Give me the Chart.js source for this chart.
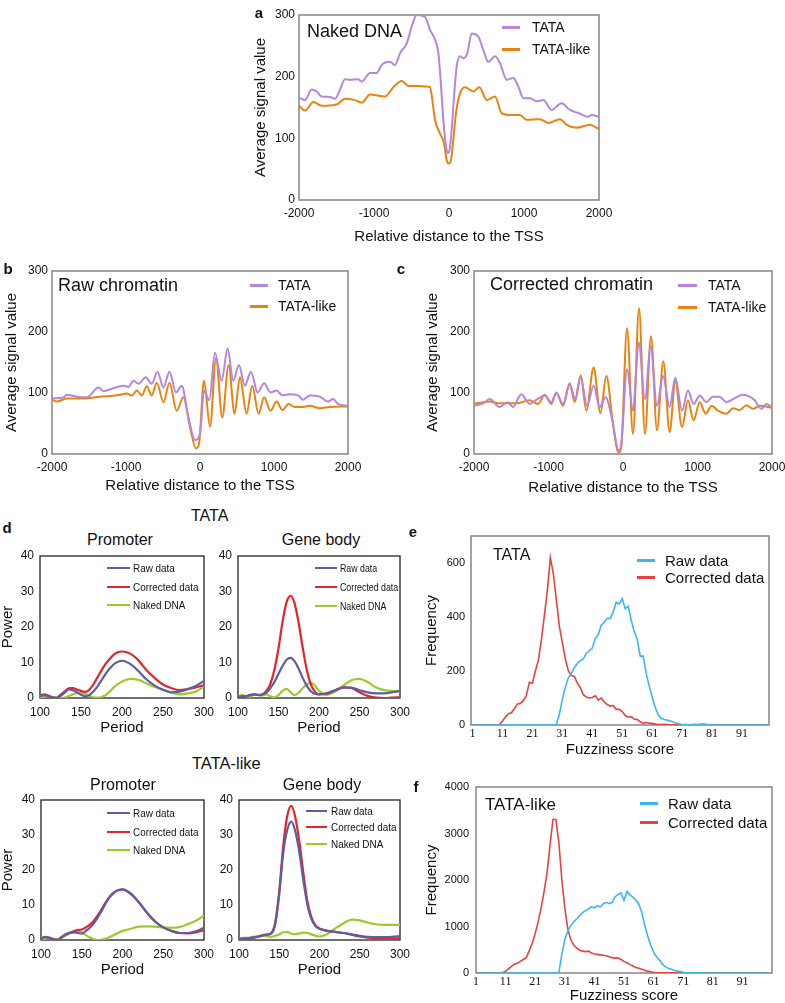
<!DOCTYPE html>
<html>
<head>
<meta charset="utf-8">
<script src="https://cdn.jsdelivr.net/npm/chart.js@4.4.1/dist/chart.umd.min.js"></script>
<style>
  body { margin: 0; width: 785px; height: 1003px; position: relative; background: #fff; overflow: hidden;
         font-family: "Liberation Sans", Arial, sans-serif; color: #111; }
  canvas { position: absolute; }
  .t { position: absolute; white-space: nowrap; line-height: 1; }
</style>
</head>
<body>
<script>
// ---------- data ----------
// a: naked DNA, signal around the TSS
const aTataPos = [-2000,-1920,-1831,-1764,-1698,-1587,-1520,-1453,-1387,-1320,-1209,-1164,-1053,-964,-898,-787,-720,-653,-564,-498,-431,-320,-253,-187,-142,-111,-76,-40,-18,4,36,67,102,147,191,244,302,391,458,524,613,680,769,858,924,991,1080,1169,1258,1369,1502,1613,1724,1858,1902,2000];
const aTataVal = [166,162,179,176,168,167,164,179,196,195,196,192,206,206,219,224,219,238,254,281,300,297,276,260,238,194,130,87,76,79,114,168,216,233,230,238,270,265,243,224,233,222,195,198,184,165,165,160,162,146,157,146,141,135,138,135];
const aLikePos = [-2000,-1920,-1809,-1698,-1498,-1387,-1253,-1164,-1053,-853,-742,-631,-542,-431,-298,-253,-222,-187,-120,-67,-31,0,27,58,93,147,213,324,404,502,613,702,813,946,1035,1213,1324,1480,1569,1702,1880,2000];
const aLikeVal = [153,145,159,153,155,164,162,158,171,168,183,193,185,185,184,183,162,130,108,92,65,59,65,98,141,173,183,176,183,162,168,141,138,138,130,131,125,131,122,117,122,115];

// b: raw chromatin
const bTataPos = [-2000,-1843,-1798,-1663,-1528,-1371,-1303,-1191,-1034,-966,-899,-831,-733,-652,-575,-494,-413,-324,-247,-157,-67,0,54,126,202,292,373,449,526,607,688,778,867,953,1034,1115,1213,1326,1393,1483,1618,1730,1798,1865,2000];
const bTataVal = [91,93,97,94,93,109,103,107,112,110,120,115,126,115,135,109,135,101,112,60,23,33,104,88,166,120,173,120,146,112,135,101,116,101,104,96,98,96,89,96,94,86,90,82,79];
const bLikePos = [-2000,-1933,-1798,-1573,-1348,-1213,-1079,-989,-921,-854,-787,-719,-652,-584,-494,-413,-315,-225,-135,-54,-13,54,135,216,301,387,467,539,629,706,791,867,953,1034,1115,1196,1281,1371,1483,1618,1753,2000];
const bLikeVal = [89,86,91,91,94,95,97,99,96,104,96,111,96,117,85,117,71,93,44,9,17,120,45,157,60,146,66,126,66,112,66,93,71,86,72,82,77,77,79,75,77,78];

// c: corrected chromatin
const cTataPos = [-2000,-1879,-1790,-1656,-1544,-1477,-1365,-1253,-1163,-1051,-962,-895,-805,-716,-640,-568,-483,-394,-313,-233,-143,-60,-25,54,134,210,295,371,456,537,626,702,792,872,948,1029,1118,1208,1298,1387,1477,1611,1700,1767,1857,1924,2000];
const cTataVal = [79,83,90,77,85,77,98,82,89,96,85,100,82,114,90,126,79,112,77,93,55,6,14,139,71,183,90,177,79,128,77,125,71,104,82,96,85,94,94,85,90,97,94,88,74,82,77];
const cLikePos = [-2000,-1879,-1790,-1656,-1432,-1253,-1141,-1051,-962,-895,-805,-716,-649,-568,-492,-394,-304,-224,-134,-60,-25,54,134,215,295,376,456,541,626,702,792,872,948,1029,1109,1190,1275,1387,1477,1566,1656,1745,1835,2000];
const cLikeVal = [82,85,86,83,83,88,82,97,82,101,79,116,85,129,71,142,67,128,49,2,10,206,33,239,33,193,39,152,36,120,44,88,55,85,66,79,71,66,75,72,80,74,79,76];

const distTicks = [-2000, -1000, 0, 1000, 2000];
const signalTicks = [0, 100, 200, 300];

// d: periodogram power
const period = [100,105,110,115,120,125,130,135,140,145,150,155,160,165,170,175,180,185,190,195,200,210,220,230,240,250,260,270,280,290,300];
const dTataPromRaw   = [0.5,0.8,0.5,0.2,0.0,0.6,1.5,2.4,2.2,1.6,0.9,0.5,0.8,1.8,3.2,5.0,6.8,8.3,9.5,10.2,10.5,9.6,7.6,5.2,3.5,2.3,1.6,1.8,2.5,3.4,4.8];
const dTataPromCorr  = [0.6,1.0,0.7,0.1,0.0,0.9,1.8,2.7,2.8,2.4,2.0,1.7,2.3,3.8,5.8,7.8,9.6,11.0,12.2,12.9,13.1,12.5,10.6,7.8,5.6,3.8,2.8,2.2,2.5,3.0,3.6];
const dTataPromNaked = [0.0,0.4,0.5,0.3,0.2,0.0,0.1,0.5,1.0,1.4,1.5,1.2,0.7,0.2,0.1,0.3,0.8,1.8,3.0,4.0,4.6,5.4,5.1,4.1,3.1,2.3,1.6,1.0,1.3,1.8,3.2];
const dTataGeneRaw   = [0.3,0.5,0.5,0.8,1.0,0.9,1.0,1.5,2.8,4.5,6.8,9.0,10.8,11.3,10.3,8.2,5.6,3.4,1.9,1.2,1.0,1.4,2.2,2.9,2.9,2.2,1.6,1.3,1.3,1.6,2.0];
const dTataGeneCorr  = [0.3,0.4,0.5,0.9,1.0,0.8,1.0,2.0,4.0,8.0,14.0,21.5,27.0,28.8,26.5,21.0,14.0,7.8,3.8,1.8,1.0,1.2,2.2,3.0,2.8,1.6,0.6,0.1,0.0,0.1,0.2];
const dTataGeneNaked = [0.3,0.8,0.5,0.3,1.0,0.9,0.7,1.0,0.5,0.2,0.8,2.0,2.6,1.6,0.8,1.5,2.8,3.8,4.3,3.5,2.0,0.9,1.8,3.5,5.0,5.4,4.5,3.0,2.2,2.0,1.8];
const dLikePromRaw   = [0.3,0.8,0.6,0.2,0.0,0.7,1.5,2.0,2.2,2.0,1.8,2.6,3.5,4.8,6.6,8.6,10.7,12.4,13.6,14.2,14.4,13.2,10.8,7.8,5.3,3.6,2.6,2.0,2.0,2.5,3.5];
const dLikePromCorr  = [0.4,0.9,0.7,0.2,0.0,0.8,1.6,2.1,2.5,2.8,3.0,3.6,4.4,5.5,7.2,9.0,11.0,12.6,13.7,14.3,14.5,13.3,10.8,7.8,5.3,3.6,2.6,2.0,1.9,2.2,2.8];
const dLikePromNaked = [0.0,0.3,0.5,0.4,0.2,0.6,1.2,1.8,2.3,2.5,2.2,1.4,0.7,0.2,0.0,0.1,0.4,0.9,1.5,2.1,2.6,3.2,3.8,3.9,3.8,3.6,3.5,3.7,4.5,5.5,7.0];
const dLikeGeneRaw   = [0.3,0.4,0.5,0.6,0.8,1.0,1.3,1.5,1.8,4.5,13.0,25.0,31.5,33.8,31.0,25.0,17.0,10.0,6.0,4.0,3.2,2.6,2.3,2.0,1.6,1.2,0.9,0.8,0.8,0.9,1.1];
const dLikeGeneCorr  = [0.2,0.3,0.4,0.5,0.7,1.0,1.4,1.6,2.0,5.0,14.0,27.0,35.5,38.3,35.0,28.0,19.0,11.0,6.5,4.2,3.3,2.6,2.3,2.0,1.5,1.0,0.7,0.5,0.5,0.5,0.5];
const dLikeGeneNaked = [0.5,0.6,0.6,0.8,1.0,1.2,1.2,1.0,0.9,1.2,1.6,2.2,2.3,1.8,1.7,1.9,2.1,2.0,1.6,1.2,1.0,1.8,3.4,4.8,5.8,5.6,5.0,4.5,4.3,4.3,4.3];
const periodTicks = [100, 150, 200, 250, 300];
const powerTicks = [0, 10, 20, 30, 40];

// e, f: fuzziness score histograms
const fuzz = [1,2,3,4,5,6,7,8,9,10,11,12,13,14,15,16,17,18,19,20,21,22,23,24,25,26,27,28,29,30,
  31,32,33,34,35,36,37,38,39,40,41,42,43,44,45,46,47,48,49,50,51,52,53,54,55,56,57,58,59,60,
  61,62,63,64,65,66,67,68,69,70,71,72,73,74,75,76,77,78,79,80,81,82,83,84,85,86,87,88,89,90,
  91,92,93,94,95,96,97,98,99,100];
const eRaw = [0,0,0,0,0,0,0,0,0,0, 0,0,0,0,0,0,0,0,0,0, 0,0,0,0,0,0,0,0,2,40,
  95,140,175,190,212,228,238,245,265,275, 285,320,335,370,382,395,395,420,455,448,
  468,430,440,388,345,318,255,255,190,145, 103,66,38,25,20,18,15,12,7,4,
  2,1,1,1,2,2,3,4,3,1, 0,0,0,0,0,0,0,0,0,0, 0,0,0,0,0,0,0,0,0,0];
const eCorr = [0,0,0,0,0,0,0,0,0,2, 15,30,42,45,60,78,80,90,110,158, 155,200,240,314,405,500,620,560,463,365,
  305,245,200,184,180,155,138,112,104,100, 102,108,92,100,85,76,70,72,58,58,
  50,35,29,31,22,20,12,6,9,7, 6,4,2,2,3,2,1,2,1,2,
  1,2,1,1,2,1,1,0,1,0, 0,0,0,0,0,0,0,0,0,0, 0,0,0,0,0,0,0,0,0,0];
const fRaw = [0,0,0,0,0,0,0,0,0,0, 0,0,0,0,0,0,0,0,0,0, 0,0,0,0,0,0,0,0,10,400,
  720,900,1020,1100,1160,1230,1300,1340,1380,1420, 1400,1450,1420,1490,1520,1490,1520,1640,1690,1720,
  1560,1750,1680,1630,1570,1480,1300,1020,800,600, 450,350,280,190,130,100,80,60,40,30,
  15,8,5,3,2,2,1,1,1,1, 0,0,0,0,0,0,0,0,0,0, 0,0,0,0,0,0,0,0,0,0];
const fCorr = [0,0,0,0,0,0,0,0,0,5, 40,90,140,190,210,250,290,330,480,640, 850,1100,1400,1750,2150,2750,3300,3300,2800,2000,
  1400,950,720,600,540,490,470,460,470,430, 410,400,390,380,370,350,330,320,320,290,
  250,220,180,150,120,100,80,60,40,25, 15,8,5,3,3,3,2,2,2,2,
  1,1,1,1,1,1,1,1,1,1, 1,1,0,0,0,0,0,0,0,0, 0,0,0,0,0,0,0,0,0,0];
const fuzzTicks = [1, 11, 21, 31, 41, 51, 61, 71, 81, 91];
const eFreqTicks = [0, 200, 400, 600];
const fFreqTicks = [0, 1000, 2000, 3000, 4000];

// ---------- style ----------
const COLORS = {
  tata: '#b486dd',
  like: '#e8830f',
  raw: '#5b5ea6',
  corr: '#e2242b',
  naked: '#9bcb2a',
  fuzzRaw: '#3db6ef',
  fuzzCorr: '#e1453d',
  frame: '#858585',
  ink: '#111'
};
const SANS = '"Liberation Sans", Arial, sans-serif';

const pts = (xs, ys) => xs.map((x, i) => ({ x, y: ys[i] }));

// box around the plot area
const framePlugin = {
  id: 'frame',
  beforeDatasetsDraw(chart, args, opts) {
    const { ctx, chartArea: a } = chart;
    ctx.save();
    ctx.strokeStyle = opts.color;
    ctx.lineWidth = opts.width;
    ctx.strokeRect(a.left, a.top, a.right - a.left, a.bottom - a.top);
    ctx.restore();
  }
};

function makeChart(box, cfg) {
  const cv = document.createElement('canvas');
  cv.width = box.w;
  cv.height = box.h;
  cv.style.left = box.x + 'px';
  cv.style.top = box.y + 'px';
  document.body.appendChild(cv);

  return new Chart(cv, {
    type: 'line',
    data: { datasets: cfg.datasets },
    options: {
      responsive: false,
      animation: false,
      layout: { padding: { top: cfg.padTop, right: cfg.padRight, left: 0, bottom: 0 } },
      elements: {
        point: { radius: 0 },
        line: { borderWidth: cfg.lw, cubicInterpolationMode: cfg.smooth ? 'monotone' : 'default', tension: 0 }
      },
      plugins: {
        legend: { display: false },
        tooltip: { enabled: false },
        frame: { color: cfg.frameColor, width: cfg.frameWidth }
      },
      scales: {
        x: {
          type: 'linear', min: cfg.xMin, max: cfg.xMax,
          grid: { display: false, drawTicks: false }, border: { display: false },
          afterBuildTicks: s => { s.ticks = cfg.xTicks.map(value => ({ value })); },
          afterFit: s => { s.height = cfg.xh; s.paddingLeft = 0; s.paddingRight = 0; },
          ticks: { autoSkip: false, maxRotation: 0, padding: cfg.xTickPad, color: COLORS.ink,
                   font: cfg.xTickFont, callback: v => String(v) },
          title: { display: true, text: cfg.xTitle, color: COLORS.ink, font: cfg.xTitleFont,
                   padding: { top: 0, bottom: cfg.xTitlePad } }
        },
        y: {
          type: 'linear', min: 0, max: cfg.yMax,
          grid: { display: false, drawTicks: false }, border: { display: false },
          afterBuildTicks: s => { s.ticks = cfg.yTicks.map(value => ({ value })); },
          afterFit: s => { s.width = cfg.yw; s.paddingTop = 0; s.paddingBottom = 0; },
          ticks: { padding: cfg.yTickPad, color: COLORS.ink, font: cfg.yTickFont, callback: v => String(v) },
          title: { display: !!cfg.yTitle, text: cfg.yTitle, color: COLORS.ink, font: cfg.yTitleFont,
                   padding: { top: cfg.yTitlePad, bottom: 0 } }
        }
      }
    },
    plugins: [framePlugin]
  });
}

function text(str, x, y, size, opts = {}) {
  const d = document.createElement('div');
  d.className = 't';
  d.textContent = str;
  d.style.left = x + 'px';
  d.style.top = y + 'px';
  d.style.fontSize = size + 'px';
  d.style.transform = `translate(${opts.center ? '-50%' : '0'}, -50%)` + (opts.sx ? ` scaleX(${opts.sx})` : '');
  if (opts.sx) d.style.transformOrigin = '0 50%';
  if (opts.bold) d.style.fontWeight = 'bold';
  document.body.appendChild(d);
}

function legend(datasets, x1, x2, tx, ys, size, lw, sx) {
  datasets.forEach((ds, i) => {
    const ln = document.createElement('div');
    ln.style.cssText = `position:absolute;left:${x1}px;top:${ys[i] - lw / 2}px;width:${x2 - x1}px;height:${lw}px;background:${ds.borderColor}`;
    document.body.appendChild(ln);
    text(ds.label, tx, ys[i], size, { sx });
  });
}

// ---------- panels a, b, c ----------
const sigCommon = {
  xMin: -2000, xMax: 2000, xTicks: distTicks, yMax: 300, yTicks: signalTicks,
  xTitle: 'Relative distance to the TSS', yTitle: 'Average signal value',
  xTickFont: { family: SANS, size: 12 }, yTickFont: { family: SANS, size: 12 },
  xTitleFont: { family: SANS, size: 15 }, yTitleFont: { family: SANS, size: 15 },
  xTickPad: 6, yTickPad: 4, lw: 2, smooth: true,
  frameColor: COLORS.frame, frameWidth: 1.5
};
const sigSets = (tp, tv, lp, lv) => [
  { label: 'TATA', data: pts(tp, tv), borderColor: COLORS.tata },
  { label: 'TATA-like', data: pts(lp, lv), borderColor: COLORS.like }
];

const aSets = sigSets(aTataPos, aTataVal, aLikePos, aLikeVal);
makeChart({ x: 240, y: 5, w: 376, h: 250 }, Object.assign({}, sigCommon, {
  datasets: aSets, padTop: 10, padRight: 17, yw: 59, xh: 55, yTitlePad: 12, xTitlePad: 9
}));
const bSets = sigSets(bTataPos, bTataVal, bLikePos, bLikeVal);
makeChart({ x: 0, y: 262, w: 368, h: 233 }, Object.assign({}, sigCommon, {
  datasets: bSets, padTop: 9, padRight: 20, yw: 52, xh: 41, yTitlePad: 3, xTitlePad: 0
}));
const cSets = sigSets(cTataPos, cTataVal, cLikePos, cLikeVal);
makeChart({ x: 420, y: 262, w: 365, h: 235 }, Object.assign({}, sigCommon, {
  datasets: cSets, padTop: 9, padRight: 13, yw: 54, xh: 43, yTitlePad: 4, xTitlePad: 0
}));

text('a', 259, 12, 15, { center: true, bold: true });
text('Naked DNA', 307, 31, 18);
legend(aSets, 502, 520, 532, [27, 49], 14, 3);
text('b', 8, 268, 15, { center: true, bold: true });
text('Raw chromatin', 58, 285, 18);
legend(bSets, 250, 268, 278, [285, 306], 14, 3);
text('c', 401, 268, 15, { center: true, bold: true });
text('Corrected chromatin', 490, 284, 18);
legend(cSets, 678, 697, 708, [285, 307], 14, 3);

// ---------- panel d ----------
const dCommon = {
  xMin: 100, xMax: 300, xTicks: periodTicks, yMax: 40, yTicks: powerTicks,
  xTitle: 'Period',
  xTickFont: { family: SANS, size: 12 }, yTickFont: { family: SANS, size: 12 },
  xTitleFont: { family: SANS, size: 15 }, yTitleFont: { family: SANS, size: 15, lineHeight: 1 },
  xTickPad: 7, yTickPad: 6, lw: 2.2, smooth: true, yTitlePad: 0,
  frameColor: '#222', frameWidth: 1.3
};
const dSets = (raw, corr, naked) => [
  { label: 'Raw data', data: pts(period, raw), borderColor: COLORS.raw },
  { label: 'Corrected data', data: pts(period, corr), borderColor: COLORS.corr },
  { label: 'Naked DNA', data: pts(period, naked), borderColor: COLORS.naked }
];

const d1 = dSets(dTataPromRaw, dTataPromCorr, dTataPromNaked);
makeChart({ x: 0, y: 548, w: 215, h: 190 }, Object.assign({}, dCommon, {
  datasets: d1, padTop: 8, padRight: 11, yw: 40, xh: 40, yTitle: 'Power', xTitlePad: 1
}));
const d2 = dSets(dTataGeneRaw, dTataGeneCorr, dTataGeneNaked);
makeChart({ x: 215, y: 548, w: 200, h: 190 }, Object.assign({}, dCommon, {
  datasets: d2, padTop: 8, padRight: 15, yw: 23, xh: 40, xTitlePad: 1
}));
const d3 = dSets(dLikePromRaw, dLikePromCorr, dLikePromNaked);
makeChart({ x: 0, y: 792, w: 215, h: 190 }, Object.assign({}, dCommon, {
  datasets: d3, padTop: 8, padRight: 11, yw: 41, xh: 42, yTitle: 'Power', xTitlePad: 3
}));
const d4 = dSets(dLikeGeneRaw, dLikeGeneCorr, dLikeGeneNaked);
makeChart({ x: 215, y: 792, w: 200, h: 190 }, Object.assign({}, dCommon, {
  datasets: d4, padTop: 8, padRight: 15, yw: 24, xh: 42, xTitlePad: 3
}));

text('d', 7, 527, 15, { center: true, bold: true });
text('TATA', 191, 516, 16);
text('Promoter', 120, 540, 16, { center: true });
text('Gene body', 321, 540, 16, { center: true });
text('TATA-like', 192, 763, 16.5);
text('Promoter', 123, 785, 16, { center: true });
text('Gene body', 322, 785, 16, { center: true });
legend(d1, 107, 130, 133, [568, 587, 605], 11, 2.2, 0.9);
legend(d2, 315, 337, 340, [568, 587, 606], 11, 2.2, 0.8);
legend(d3, 107, 130, 133, [813, 832, 850], 11, 2.2, 0.9);
legend(d4, 306, 327, 331, [811, 827, 844], 11, 2.2, 0.9);

// ---------- panels e, f ----------
const fzCommon = {
  xTicks: fuzzTicks, xTitle: 'Fuzziness score', yTitle: 'Frequency',
  xTickFont: { family: '"Liberation Serif", "DejaVu Serif", serif', size: 12 },
  yTickFont: { family: SANS, size: 11 },
  xTitleFont: { family: SANS, size: 15 }, yTitleFont: { family: SANS, size: 15 },
  xTickPad: 2, lw: 1.6, smooth: false, yTitlePad: 18,
  frameColor: COLORS.frame, frameWidth: 1.5
};
const fzSets = (raw, corr) => [
  { label: 'Raw data', data: pts(fuzz, raw), borderColor: COLORS.fuzzRaw },
  { label: 'Corrected data', data: pts(fuzz, corr), borderColor: COLORS.fuzzCorr }
];

const eSets = fzSets(eRaw, eCorr);
makeChart({ x: 405, y: 528, w: 372, h: 232 }, Object.assign({}, fzCommon, {
  datasets: eSets, xMin: 0.5, xMax: 100, yMax: 700, yTicks: eFreqTicks,
  padTop: 8, padRight: 8, yw: 66, xh: 35, yTickPad: 6, xTitlePad: 1
}));
const fSets = fzSets(fRaw, fCorr);
makeChart({ x: 405, y: 780, w: 375, h: 223 }, Object.assign({}, fzCommon, {
  datasets: fSets, xMin: 1, xMax: 101, yMax: 4000, yTicks: fFreqTicks,
  padTop: 7, padRight: 8, yw: 71, xh: 30, yTickPad: 7, xTitlePad: 0,
  xTitleFont: { family: SANS, size: 15, lineHeight: 1 }
}));

text('e', 413, 531, 15, { center: true, bold: true });
text('TATA', 493, 555, 16);
legend(eSets, 637, 655, 665, [560, 577], 15, 3);
text('f', 416, 786, 15, { center: true, bold: true });
text('TATA-like', 485, 804, 17);
legend(fSets, 640, 658, 668, [803, 822], 15, 3);
</script>
</body>
</html>
